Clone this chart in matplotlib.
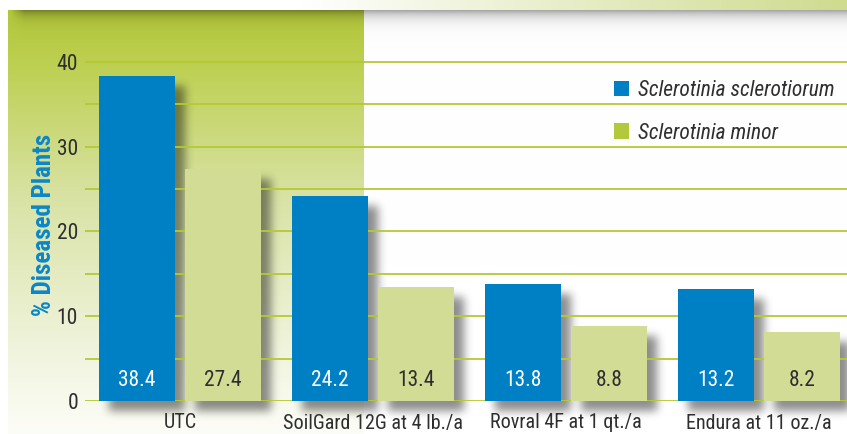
import matplotlib.pyplot as plt
import numpy as np
from matplotlib.patches import Patch

# data
treatments = ['UTC', 'SoilGard 12G at 4 lb./a', 'Rovral 4F at 1 qt./a', 'Endura at 11 oz./a']
sclerotiorum = [38.4, 24.2, 13.8, 13.2]
minor = [27.4, 13.4, 8.8, 8.2]
series_names = ['Sclerotinia sclerotiorum', 'Sclerotinia minor']
y_major = [0, 10, 20, 30, 40]
y_minor = [5, 15, 25, 35]

BLUE = '#0080c4'
PALE = '#d3dc95'
LIME = '#b3c83a'
GRID = '#b5c934'
TEXT = '#2e2e2e'

plt.rcParams['font.family'] = ['Roboto Condensed', 'Liberation Sans', 'DejaVu Sans']


def hex_rgb(h):
    return np.array([int(h[i:i + 2], 16) for i in (1, 3, 5)]) / 255.0


def make_background(H, W):
    bg = np.ones((H, W, 3))
    cols = np.arange(W)

    # light band along the top, fading in from the left
    t = np.clip((cols - 300) / (W - 300), 0, 1)[:, None]
    bg[:10, :, :] = (1 - (1 - hex_rgb('#cfdb8e')) * t)[None, :, :]

    # grey shadow under the band on the right
    r = np.arange(10, H)
    d = 0.34 * np.exp(-(r - 10) / 7.0)
    bg[10:, 364:, :] = (1 - d)[:, None, None]

    # green panel on the left
    stops_r = [10, 60, 200, 330, H]
    stops_c = [hex_rgb(c) for c in ['#b2c63a', '#bdcf4f', '#d9e3a6', '#edf2d6', '#fdfdf8']]
    col = np.stack([np.interp(r, stops_r, [c[k] for c in stops_c]) for k in range(3)], axis=1)
    panel = np.repeat(col[:, None, :], 364 - 8, axis=1)
    dark = (0.34 * np.exp(-(r - 10) / 6.0))[:, None] * np.clip((np.arange(8, 364) - 10) / 14.0, 0, 1)[None, :]
    bg[10:, 8:364, :] = panel * (1 - dark[..., None])
    return bg


def drop_shadow(img, dpi):
    pad = 26
    a = np.pad(img[:, :, 3], pad)
    a = np.roll(a, 10, axis=1)
    a = np.roll(a, 10, axis=0)
    k = np.exp(-0.5 * (np.arange(-12, 13) / 4.5) ** 2)
    k /= k.sum()
    a = np.apply_along_axis(lambda v: np.convolve(v, k, mode='same'), 1, a)
    a = np.apply_along_axis(lambda v: np.convolve(v, k, mode='same'), 0, a)
    out = np.zeros(a.shape + (4,))
    out[:, :, 3] = a * 0.45
    return out, -pad, -pad


fig = plt.figure(figsize=(8.47, 4.34), dpi=100)
fig.figimage(make_background(434, 847), xo=0, yo=0, origin='upper', zorder=-10)

ax = fig.add_axes([85 / 847, 33 / 434, 762 / 847, 381.4 / 434])
ax.patch.set_visible(False)

x = np.arange(len(treatments))
w = 0.394
off = 0.223

for pos, vals in ((x - off, sclerotiorum), (x + off, minor)):
    sh = ax.bar(pos, vals, w, color='k', zorder=1, clip_on=False)
    for p in sh:
        p.set_agg_filter(drop_shadow)

b1 = ax.bar(x - off, sclerotiorum, w, color=BLUE, zorder=3)
b2 = ax.bar(x + off, minor, w, color=PALE, zorder=3)

for xi, v in zip(x - off, sclerotiorum):
    ax.text(xi, 2.4, f'{v:.1f}', ha='center', va='center', color='white', fontsize=15.5, zorder=4)
for xi, v in zip(x + off, minor):
    ax.text(xi, 2.4, f'{v:.1f}', ha='center', va='center', color=TEXT, fontsize=15.5, zorder=4)

ax.set_xlim(-0.492, 3.456)
ax.set_ylim(0, 45)
ax.set_yticks(y_major)
ax.set_yticks(y_minor, minor=True)
ax.set_axisbelow(False)
ax.grid(which='both', axis='y', color=GRID, lw=1.3)
ax.grid(False, axis='x')
ax.tick_params(which='both', length=0)
ax.tick_params(axis='y', labelsize=15.5, labelcolor=TEXT, pad=5)
ax.set_xticks(x)
ax.set_xticklabels(treatments, fontsize=14.5, color=TEXT)
ax.tick_params(axis='x', pad=9)
for s in ax.spines.values():
    s.set_visible(False)

ax.set_ylabel('% Diseased Plants', fontsize=18, fontweight='bold', color='#0a86c8')
ax.yaxis.set_label_coords(-0.038, 0.461)

handles = [Patch(facecolor=BLUE), Patch(facecolor=LIME)]
ax.legend(handles, series_names, loc='upper left', bbox_to_anchor=(614 / 847, 1 - 80 / 434),
          bbox_transform=fig.transFigure, frameon=False, borderpad=0, borderaxespad=0,
          prop={'style': 'italic', 'size': 15.5}, labelcolor=TEXT,
          handlelength=0.7, handleheight=0.7, handletextpad=0.4, labelspacing=1.0)

plt.savefig('out.png', dpi=100)
